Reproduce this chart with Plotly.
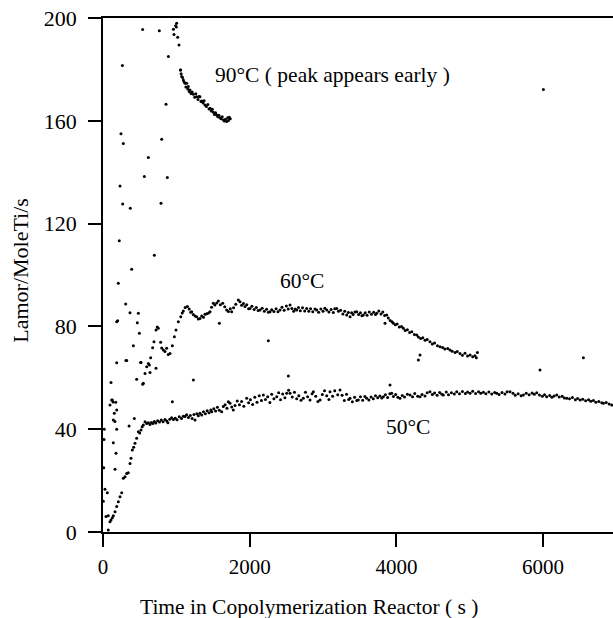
import plotly.graph_objects as go

# ---- data (time s, Lamor/MoleTi/s) ----
t50 = [4, 10, 14, 18, 27, 41, 59, 72, 72, 95, 109, 127, 141, 164, 187, 209, 232, 255, 277, 300,
       323, 345, 368, 382, 400, 418, 436, 459, 482, 500, 518, 534, 550, 573, 595, 618, 640, 660,
       680, 700, 720, 745, 770, 795, 820, 845, 870, 885, 910, 935, 960, 985, 1010, 1040, 1070,
       1095, 1118, 1140, 1165, 1190, 1215, 1240, 1254, 1280, 1300, 1322, 1345, 1370, 1395, 1420,
       1445, 1470, 1482, 1510, 1535, 1560, 1585, 1618, 1640, 1665, 1690, 1709, 1732, 1755, 1777,
       1800, 1830, 1860, 1890, 1920, 1959, 1985, 2010, 2040, 2070, 2100, 2130, 2160, 2186, 2215,
       2245, 2275, 2300, 2330, 2368, 2395, 2420, 2450, 2480, 2504, 2530, 2550, 2580, 2610, 2641,
       2670, 2700, 2731, 2760, 2790, 2822, 2850, 2868, 2900, 2930, 2959, 2990, 3020, 3050, 3080,
       3095, 3130, 3160, 3200, 3231, 3260, 3290, 3320, 3350, 3368, 3400, 3430, 3460, 3481, 3510,
       3540, 3570, 3595, 3625, 3655, 3685, 3715, 3745, 3775, 3800, 3822, 3850, 3880, 3910, 3936,
       3960, 3990, 4020, 4049, 4080, 4110, 4150, 4186, 4220, 4250, 4290, 4322, 4350, 4390, 4420,
       4458, 4490, 4520, 4555, 4590, 4620, 4640, 4680, 4710, 4750, 4790, 4822, 4860, 4900, 4940,
       4970, 5004, 5040, 5080, 5120, 5150, 5186, 5220, 5260, 5300, 5340, 5368, 5400, 5440, 5480,
       5510, 5549, 5590, 5620, 5660, 5700, 5731, 5770, 5810, 5850, 5880, 5913, 5950, 5990, 6020,
       6049, 6090, 6120, 6150, 6186, 6220, 6260, 6290, 6322, 6360, 6400, 6440, 6470, 6504, 6540,
       6580, 6620, 6650, 6686, 6720, 6760, 6800, 6822, 6860, 6900, 6935,
       945, 1232, 2527, 3913, 5958, 6549]
v50 = [12, 25, 36, 40, 16.6, 6, 15.3, 6.3, 0.8, 4, 4.7, 5.5, 6.3, 7.9, 9.9, 11.8, 13.7, 15.3, 20.9, 21.5,
       22.8, 23.1, 26.7, 28.7, 31.9, 33, 34.5, 36.5, 39, 38.5, 39.7, 41, 41.6, 42.9, 42.2, 42.5, 41.8, 42.6,
       42.2, 43, 42.4, 43.3, 42.8, 43.6, 42.9, 43.8, 43.2, 42.5, 43.9, 44.5, 43.8, 44.3, 43.7, 44.8, 44.2,
       45, 44.9, 45.6, 44.6, 45.3, 44.2, 45.7, 43.6, 46, 45.2, 46.2, 45.5, 46.8, 46, 47.2,
       46.4, 47.5, 46.8, 48, 47.1, 48.5, 47.4, 46.8, 48.8, 49.5, 48.2, 50.7, 50.1, 48.6, 47.5,
       49.2, 51, 49.5, 50.8, 48.9, 52, 50.3, 51.5, 49.6, 52.4, 50.5, 53, 51.2, 53.3, 51.6,
       52.6, 50.4, 53.6, 51.8, 52.6, 54.2, 51.5, 53.7, 52.2, 54, 55.2, 54, 52.5, 54.4, 51.8,
       53, 51.3, 52, 54.4, 52.6, 51.4, 53.8, 54.6, 52.8, 50.8, 51.4, 53.5, 55, 53, 51.6,
       54.6, 52.8, 55, 53.4, 55.3, 53.2, 51.2, 53.6, 51.6, 52, 50.7, 52.4, 51.2, 51.4, 52.6,
       51.3, 52.7, 52, 51.4, 52.5, 51.8, 53, 52.2, 52.9, 52.1, 52.6, 53.4, 52.3, 53.8, 54,
       52.7, 53.5, 52.4, 52, 53.1, 52.5, 53.6, 53.3, 52.6, 53.9, 52.8, 52.6, 53.5, 52.9, 54.2,
       54.6, 53.5, 54.1, 53.2, 54.3, 53.6, 53.3, 54.5, 53.4, 54.2, 53.7, 54.6, 53.8, 54.7, 53.9,
       54.5, 54, 54.8, 53.9, 54.6, 54, 54.4, 53.8, 54.5, 53.7, 54.3, 54, 53.5, 54.3, 53.7,
       54.6, 54.6, 54, 53.2, 53.8, 53, 53.3, 54, 53.4, 54.1, 53.6, 54.2, 53.3, 52.8, 53.4,
       52.6, 53.1, 52.4, 52.9, 53.3, 52.5, 52.8, 52.1, 52, 51.8, 52.3, 51.5, 51.9, 51.4, 51.7,
       51.1, 51.5, 50.9, 51.2, 50.5, 50.8, 50.3, 50.1, 50.4, 49.8, 49.4,
       50.7, 59.1, 60.7, 57.2, 63, 67.8]

t60 = [95, 109, 118, 127, 136, 141, 141, 154, 163, 164, 173, 177, 187, 187, 187, 187, 200, 313, 323,
       355, 414, 427, 459, 468, 482, 496, 514, 518, 541, 550, 573, 596, 618, 632, 641, 650, 677,
       695, 723, 723, 740, 754, 786, 800, 823, 845, 868, 890, 913, 945, 973, 995, 1027, 1060, 1080,
       1095, 1120, 1150, 1175, 1195, 1209, 1230, 1255, 1277, 1300, 1322, 1345, 1370, 1391, 1415,
       1440, 1459, 1480, 1504, 1525, 1550, 1573, 1600, 1632, 1660, 1686, 1710, 1735, 1754, 1780,
       1810, 1845, 1868, 1890, 1915, 1936, 1960, 1985, 2004, 2030, 2060, 2090, 2115, 2140, 2170,
       2200, 2230, 2255, 2277, 2300, 2330, 2360, 2385, 2413, 2440, 2470, 2500, 2525, 2550, 2575,
       2600, 2620, 2641, 2665, 2690, 2720, 2750, 2777, 2805, 2830, 2860, 2890, 2913, 2940, 2970,
       3000, 3025, 3050, 3080, 3110, 3140, 3160, 3186, 3210, 3240, 3270, 3295, 3322, 3345, 3368,
       3390, 3410, 3435, 3459, 3485, 3510, 3530, 3550, 3575, 3600, 3630, 3660, 3690, 3715, 3731,
       3760, 3790, 3815, 3840, 3868, 3890, 3915, 3940, 3959, 3985, 4010, 4040, 4070, 4095, 4120,
       4150, 4180, 4210, 4245, 4277, 4300, 4330, 4360, 4390, 4420, 4458, 4490, 4520, 4560, 4595,
       4630, 4660, 4700, 4731, 4760, 4800, 4830, 4867, 4900, 4935, 4970, 5004, 5040, 5070, 5090,
       5104, 1586, 2254, 3845, 4300, 4322]
v60 = [49.4, 58.2, 51.4, 51.4, 50.6, 43.6, 34.7, 46.2, 43, 24.4, 50.5, 30.6, 47.5, 40, 65.9, 81.8, 82.2, 66.7, 66.7,
       41.2, 72.5, 44.2, 59.4, 81.4, 85.1, 77.3, 66, 66, 57.5, 57.9, 61.7, 64.3, 65.6, 65, 62.1, 67.8, 71.7,
       74, 78.6, 63.7, 79.8, 79.3, 73.8, 71.6, 70.8, 70.2, 71.5, 69.1, 69.5, 72.5, 76, 78.6, 81.8, 83.8, 85.2,
       86, 87.4, 87.7, 86.8, 85.5, 85.7, 84.6, 84, 83.8, 82.9, 83.1, 84, 83.6, 84.7, 84.9,
       85.2, 85.7, 87.5, 89, 88.3, 89.1, 89.9, 88.4, 89, 87.6, 86.4, 85.8, 86.9, 85.7, 87.3,
       88.6, 90.3, 89.6, 88.2, 88.9, 87.7, 88.4, 86.9, 87, 87.8, 86.6, 87.4, 86.2, 86.4, 87.1,
       85.9, 86.7, 85.5, 85.7, 86.5, 85.8, 86.9, 85.7, 86.4, 87.5, 86.3, 87.9, 86.8, 88.3, 87,
       85.9, 86.8, 86.4, 87.4, 86.1, 87.3, 86, 87, 85.9, 86.9, 85.7, 86.8, 86.4, 85.5, 86.8,
       85.9, 87.1, 86.4, 85.6, 86.6, 85.4, 86.9, 87, 85.9, 86.3, 84.8, 85.9, 84.4, 85.4, 83.8,
       85.3, 84.6, 85.6, 85.7, 84.6, 85.3, 84.1, 84.4, 85.3, 84.3, 85.6, 84.7, 85.5, 84.6, 85.1,
       86, 84.8, 85.6, 84.2, 84.4, 83.3, 82.3, 81.8, 81.2, 80.6, 80.9, 79.8, 80, 79.3, 78.4,
       78.7, 77.6, 77.9, 76.8, 76.7, 75.9, 75.3, 75.6, 74.6, 74.9, 74, 73.2, 73.5, 72.5, 72.1,
       71.8, 71.2, 71.4, 70.8, 70.3, 69.8, 70.2, 69.5, 68.8, 69.6, 68.5, 68.9, 68.2, 68.6, 67.8,
       69.8, 81.2, 74.4, 81.2, 66.9, 68.9]

t90 = [209, 222, 232, 245, 264, 268, 277, 309, 368, 372, 391, 540, 563, 618, 700, 768, 791, 800, 859,
       877, 891, 960, 968, 990, 1000, 1004, 1018, 1036, 1054, 1059, 1065, 1073, 1085, 1095, 1105,
       1118, 1130, 1141, 1155, 1163, 1175, 1186, 1200, 1215, 1232, 1250, 1265, 1277, 1295, 1310,
       1322, 1335, 1345, 1365, 1378, 1391, 1410, 1430, 1445, 1459, 1475, 1490, 1504, 1520, 1535,
       1550, 1565, 1580, 1595, 1610, 1625, 1641, 1655, 1670, 1686, 1700, 1710, 1722, 1735, 6004]
v90 = [96.8, 113.3, 134.6, 155, 181.5, 127.6, 151.2, 88.7, 85.3, 126, 102.2, 195.5, 138.3, 145.7, 107.7, 195, 127.9, 152.8, 166.4,
       137.9, 185, 195.6, 193.6, 197, 196.5, 198, 192.5, 189.5, 179.8, 179.8, 178.3, 177.2, 176.8, 175.9, 175.2,
       174.6, 173.2, 174.6, 172.4, 173.3, 171.4, 172, 170.6, 171.2, 170.3, 169.2, 170.5, 169.4, 168.3, 169.5,
       169.4, 167.5, 167.7, 166.9, 167.8, 166.1, 165.6, 166.3, 164.6, 164.9, 163.8, 164.5, 163.3, 162.5, 163.1,
       162.3, 161.6, 162.2, 161.2, 160.8, 161.6, 160.3, 159.9, 160.6, 159.7, 161.2, 160.1, 161.4, 160.8, 172.2]

x_ticks = [0, 2000, 4000, 6000]
y_ticks = [0, 40, 80, 120, 160, 200]

FONT = "Liberation Serif, Times New Roman, serif"

fig = go.Figure()
marker = dict(color="black", size=3, symbol="circle", line=dict(width=0))
for name, tx, vy in [("50°C", t50, v50), ("60°C", t60, v60), ("90°C", t90, v90)]:
    fig.add_trace(go.Scatter(x=tx, y=vy, mode="markers", name=name, marker=marker,
                             showlegend=False, hoverinfo="x+y"))

lab_font = dict(family=FONT, size=21.5, color="black")
fig.add_annotation(x=1500, y=178, text="90°C ( peak appears early )", showarrow=False,
                   xanchor="left", yanchor="middle", font=lab_font)
fig.add_annotation(x=2713, y=97.5, text="60°C", showarrow=False,
                   xanchor="center", yanchor="middle", font=lab_font)
fig.add_annotation(x=4160, y=40.7, text="50°C", showarrow=False,
                   xanchor="center", yanchor="middle", font=lab_font)
fig.add_annotation(xref="paper", yref="paper", x=0.403, y=-0.145, text="Time in Copolymerization Reactor ( s )",
                   showarrow=False, xanchor="center", yanchor="middle",
                   font=dict(family=FONT, size=21.5, color="black"))
fig.add_annotation(xref="paper", yref="paper", x=-0.161, y=0.51, text="Lamor/MoleTi/s", textangle=-90,
                   showarrow=False, xanchor="center", yanchor="middle",
                   font=dict(family=FONT, size=22, color="black"))

fig.update_xaxes(range=[0, 6953], tickvals=x_ticks, ticktext=[str(v) for v in x_ticks],
                 showgrid=False, zeroline=False, showline=True, linecolor="black", linewidth=1.5,
                 mirror=True, ticks="outside", ticklen=13, tickwidth=1.5, tickcolor="black",
                 tickfont=dict(family=FONT, size=21, color="black"), ticklabelstandoff=2)
fig.update_yaxes(range=[0, 200], tickvals=y_ticks, ticktext=[str(v) for v in y_ticks],
                 showgrid=False, zeroline=False, showline=True, linecolor="black", linewidth=1.5,
                 ticks="outside", ticklen=13, tickwidth=1.5, tickcolor="black",
                 tickfont=dict(family=FONT, size=22, color="black"), ticklabelstandoff=7)

fig.update_layout(width=613, height=618, margin=dict(l=103, r=0, t=18, b=86),
                  paper_bgcolor="white", plot_bgcolor="white")

fig.write_html("out.html")
